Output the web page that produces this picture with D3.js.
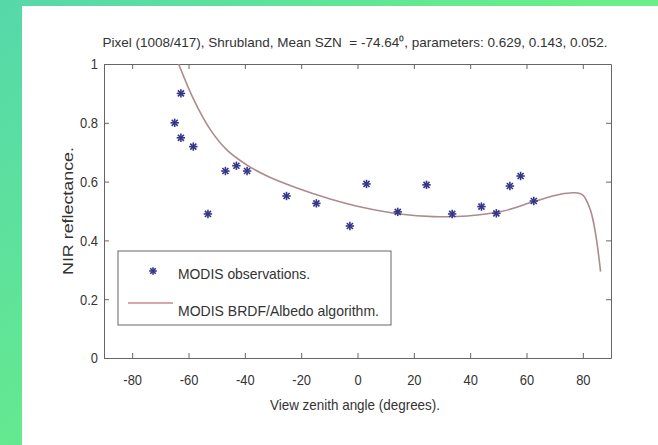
<!DOCTYPE html>
<html>
<head>
<meta charset="utf-8">
<script src="https://cdn.jsdelivr.net/npm/d3@7"></script>
<style>
  html, body { margin: 0; padding: 0; background: #fff; }
  svg text { font-family: "Liberation Sans", Arial, sans-serif; fill: #333; }
</style>
</head>
<body>
<div id="chart"></div>
<script>
// 觀測值 (view zenith angle, NIR reflectance)
const obsAngle = [-64.9, -62.7, -62.7, -58.3, -53.1, -46.9, -43.0, -39.2, -25.2, -14.6, -2.7, 3.2, 14.3, 24.5, 33.6, 44.0, 49.3, 54.1, 57.9, 62.6];
const obsValue = [0.800, 0.900, 0.749, 0.719, 0.490, 0.636, 0.654, 0.636, 0.551, 0.526, 0.449, 0.592, 0.497, 0.589, 0.490, 0.515, 0.492, 0.585, 0.619, 0.534];

// BRDF 模型曲線
const modelAngle = [-63.5, -58.1, -52.2, -46.3, -39.2, -32.1, -22.0, -10.0, 2.0, 15.0, 27.0, 39.0, 51.0, 62.6, 72.0, 77.0, 80.0, 82.7, 84.5, 86.3];
const modelValue = [1.000, 0.878, 0.776, 0.707, 0.656, 0.619, 0.580, 0.542, 0.512, 0.490, 0.481, 0.483, 0.498, 0.532, 0.557, 0.562, 0.554, 0.503, 0.424, 0.294];

const xTicks = [-80, -60, -40, -20, 0, 20, 40, 60, 80];
const yTicks = [0, 0.2, 0.4, 0.6, 0.8, 1];

const titleText = "Pixel (1008/417), Shrubland, Mean SZN\u00a0 = -74.64\u2070, parameters: 0.629, 0.143, 0.052.";
const legendLabels = ["MODIS observations.", "MODIS BRDF/Albedo algorithm."];

const W = 658, H = 445;
const margin = {top: 64, right: 47, bottom: 87, left: 104};
const width = W - margin.left - margin.right;
const height = H - margin.top - margin.bottom;

const svg = d3.select("#chart").append("svg")
    .attr("width", W)
    .attr("height", H);

// 背景漸層
const defs = svg.append("defs");
const grad = defs.append("linearGradient")
    .attr("id", "bg")
    .attr("gradientUnits", "userSpaceOnUse")
    .attr("x1", 0).attr("y1", 0).attr("x2", 300).attr("y2", 300);
grad.append("stop").attr("offset", 0).attr("stop-color", "#56d8aa");
grad.append("stop").attr("offset", 1).attr("stop-color", "#69ee88");

defs.append("filter").attr("id", "soft")
    .append("feGaussianBlur").attr("stdDeviation", 0.5);

svg.append("rect").attr("width", W).attr("height", H).attr("fill", "url(#bg)");
svg.append("rect").attr("x", 22).attr("y", 6).attr("width", W - 22).attr("height", H - 6).attr("fill", "#fff");

const g = svg.append("g").attr("transform", `translate(${margin.left},${margin.top})`);

// 比例尺
const x = d3.scaleLinear().domain([-90, 90]).range([0, width]);
const y = d3.scaleLinear().domain([0, 1]).range([height, 0]);

// 窄字體效果 (沒有 Arial Narrow)
function condense(sel, k) {
    sel.each(function() {
        const len = this.getComputedTextLength();
        if (len > 0) {
            d3.select(this).attr("textLength", len * k).attr("lengthAdjust", "spacingAndGlyphs");
        }
    });
}

// 軸 (MATLAB 風格，刻度朝內)
const axisColor = "#666";
function styleAxis(sel) {
    sel.select(".domain").attr("stroke", axisColor).attr("fill", "none");
    sel.selectAll(".tick line").attr("stroke", axisColor);
    sel.selectAll("text").attr("font-size", 15).attr("fill", "#3a3a3a").call(condense, 0.86);
}

g.append("g")
    .attr("transform", `translate(0,${height})`)
    .call(d3.axisBottom(x).tickValues(xTicks).tickSizeInner(-5).tickSizeOuter(0).tickPadding(16).tickFormat(d => String(d)))
    .call(styleAxis);

g.append("g")
    .call(d3.axisTop(x).tickValues(xTicks).tickSizeInner(-5).tickSizeOuter(0).tickFormat(""))
    .call(styleAxis);

g.append("g")
    .call(d3.axisLeft(y).tickValues(yTicks).tickSizeInner(-5).tickSizeOuter(0).tickPadding(6).tickFormat(d => String(d)))
    .call(styleAxis);

g.append("g")
    .attr("transform", `translate(${width},0)`)
    .call(d3.axisRight(y).tickValues(yTicks).tickSizeInner(-5).tickSizeOuter(0).tickFormat(""))
    .call(styleAxis);

// 模型曲線
const curveColor = "#ad8a8d";
const modelData = modelAngle.map((a, i) => ({a, v: modelValue[i]}));
g.append("path")
    .datum(modelData)
    .attr("fill", "none")
    .attr("stroke", curveColor)
    .attr("stroke-width", 1.6)
    .attr("d", d3.line().x(d => x(d.a)).y(d => y(d.v)).curve(d3.curveCatmullRom.alpha(0.5)));

// 觀測點 (星號)
const starColor = "#35358a";
function drawStar(sel, cx, cy, r) {
    const s = sel.append("g").attr("transform", `translate(${cx},${cy})`).attr("filter", "url(#soft)");
    const d = r * 0.72;
    [[0, -r, 0, r], [-r, 0, r, 0], [-d, -d, d, d], [-d, d, d, -d]].forEach(l => {
        s.append("line")
            .attr("x1", l[0]).attr("y1", l[1]).attr("x2", l[2]).attr("y2", l[3])
            .attr("stroke", starColor).attr("stroke-width", 1.6);
    });
}
const obsData = obsAngle.map((a, i) => ({a, v: obsValue[i]}));
const pts = g.append("g");
obsData.forEach(d => drawStar(pts, x(d.a), y(d.v), 4.2));

// 圖例
const lg = svg.append("g");
lg.append("rect")
    .attr("x", 118).attr("y", 251).attr("width", 273).attr("height", 74)
    .attr("fill", "#fff").attr("stroke", axisColor);
drawStar(lg, 153, 271, 3.8);
lg.append("line")
    .attr("x1", 128).attr("y1", 303).attr("x2", 173).attr("y2", 303)
    .attr("stroke", "#c98a8e").attr("stroke-width", 1.6);
const legendWidths = [132, 201];
lg.selectAll("text.legend")
    .data(legendLabels)
    .enter()
    .append("text")
    .attr("class", "legend")
    .attr("x", 178)
    .attr("y", (d, i) => i === 0 ? 278.5 : 315.5)
    .attr("font-size", 15)
    .attr("textLength", (d, i) => legendWidths[i])
    .attr("lengthAdjust", "spacingAndGlyphs")
    .text(d => d);

// 標題與軸標籤
svg.append("text")
    .attr("x", 355).attr("y", 47)
    .attr("text-anchor", "middle")
    .attr("font-size", 13.5)
    .text(titleText);

svg.append("text")
    .attr("x", 355).attr("y", 410)
    .attr("text-anchor", "middle")
    .attr("font-size", 15)
    .attr("textLength", 170)
    .attr("lengthAdjust", "spacingAndGlyphs")
    .text("View zenith angle (degrees).");

svg.append("text")
    .attr("transform", "translate(72.5,211) rotate(-90)")
    .attr("text-anchor", "middle")
    .attr("font-size", 15)
    .attr("textLength", 128)
    .attr("lengthAdjust", "spacingAndGlyphs")
    .text("NIR reflectance.");
</script>
</body>
</html>
